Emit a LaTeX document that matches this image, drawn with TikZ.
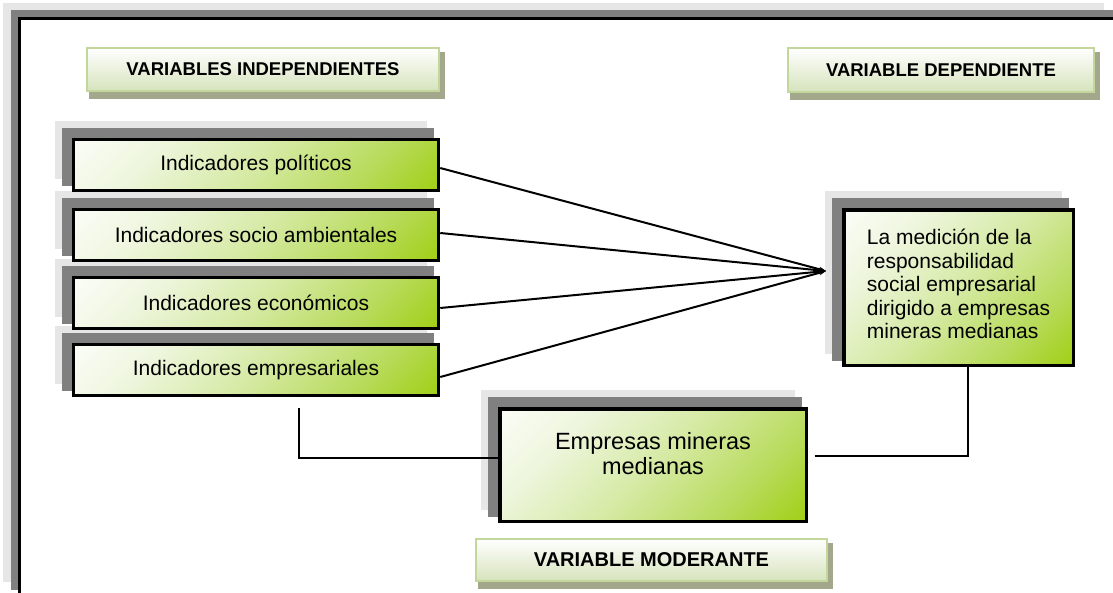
\documentclass[tikz,border=0pt]{standalone}
\usepackage{fontspec}
\setmainfont{Liberation Sans}
\usetikzlibrary{arrows.meta,calc}
\definecolor{lgray}{RGB}{230,230,230}
\definecolor{dgray}{RGB}{128,128,128}
\definecolor{bgreen}{RGB}{153,204,0}
\definecolor{g1}{RGB}{184,219,92}
\definecolor{g2}{RGB}{214,234,165}
\definecolor{g3}{RGB}{238,246,222}
\definecolor{tborder}{RGB}{195,214,155}
\definecolor{tbottom}{RGB}{214,227,188}
\definecolor{tshadow}{RGB}{163,168,140}
\pgfdeclarelayer{framelayer}
\pgfdeclarelayer{shadowlayer}
\pgfsetlayers{framelayer,shadowlayer,main}
\pgfdeclareverticalshading{boxgrad}{100bp}{color(0bp)=(bgreen); color(10bp)=(bgreen); color(30bp)=(g1); color(50bp)=(g2); color(70bp)=(g3); color(90bp)=(white); color(100bp)=(white)}
\newcommand\boxshadow[1]{%
  \begin{pgfonlayer}{shadowlayer}
    \fill[lgray] ($(#1.south west)+(-16.75,-13.25)$) rectangle ($(#1.north east)+(-13.25,-16.75)$);
    \fill[dgray] ($(#1.south west)+(-9.75,-6.25)$) rectangle ($(#1.north east)+(-6.25,-9.75)$);
  \end{pgfonlayer}}
\newcommand\titleshadow[1]{%
  \begin{pgfonlayer}{shadowlayer}
    \fill[tshadow] ($(#1.south west)+(3,7)$) rectangle ($(#1.north east)+(5,5)$);
  \end{pgfonlayer}}
\begin{document}
\begin{tikzpicture}[x=1pt,y=-1pt,
  indbox/.style={draw=black, line width=3.5pt, shade, shading=boxgrad, shading angle=45,
    minimum width=365pt, minimum height=51pt, inner sep=0pt, font=\fontsize{21}{24}\selectfont},
  titlebox/.style={draw=tborder, line width=2pt, top color=white, bottom color=tbottom,
    inner sep=0pt, font=\bfseries\fontsize{18.5}{22}\selectfont},
  conn/.style={line width=2pt, -{Stealth[length=7pt,width=5pt]}},
  modline/.style={line width=1.3pt}]
\useasboundingbox (0,0) rectangle (1113,592);
\begin{pgfonlayer}{framelayer}
  \clip (0,0) rectangle (1113,592);
  \fill[lgray] (3,3) rectangle (1104,582);
  \fill[dgray] (11,10) rectangle (1125,590);
  \draw[line width=3.5pt, fill=white] (19.5,18.5) rectangle (1130,605);
\end{pgfonlayer}

% titles
\node[titlebox, minimum width=352pt, minimum height=43pt] (t1) at (263,69.5) {VARIABLES INDEPENDIENTES};
\node[titlebox, minimum width=306pt, minimum height=44pt] (t2) at (941,70) {VARIABLE DEPENDIENTE};
\node[titlebox, minimum width=351pt, minimum height=42pt, font=\bfseries\fontsize{20}{24}\selectfont] (t3) at (651.5,560) {VARIABLE MODERANTE};
\titleshadow{t1}\titleshadow{t2}\titleshadow{t3}

% independent boxes
\node[indbox] (b1) at (256,165) {Indicadores políticos};
\node[indbox] (b2) at (256,235) {Indicadores socio ambientales};
\node[indbox] (b3) at (256,303) {Indicadores económicos};
\node[indbox] (b4) at (256,370) {Indicadores empresariales};
\boxshadow{b1}\boxshadow{b2}\boxshadow{b3}\boxshadow{b4}

% dependent box
\node[indbox, minimum width=229.5pt, minimum height=155.5pt] (dep) at (958.5,287.5) {};
\node[align=left, inner sep=0pt, font=\fontsize{21}{23.6}\selectfont] (dept) at (958.5,284)
  {La medición de la\\responsabilidad\\social empresarial\\dirigido a empresas\\mineras medianas};
\boxshadow{dep}

% moderating box
\node[indbox, minimum width=306.5pt, minimum height=112.5pt] (mod) at (653,465) {};
\node[align=center, inner sep=0pt, font=\fontsize{23.5}{25}\selectfont] (modt) at (653,453.5)
  {Empresas mineras\\medianas};
\boxshadow{mod}

% connectors
\coordinate (tip) at (826,271);
\draw[conn] ([yshift=-3pt]b1.east) -- (tip);
\draw[conn] ([yshift=2pt]b2.east) -- (tip);
\draw[conn] ([yshift=-5pt]b3.east) -- (tip);
\draw[conn] ([yshift=-7pt]b4.east) -- (tip);

\coordinate (ml) at (299,408);
\draw[modline] (ml) |- ([yshift=7pt]mod.west);
\draw[modline] ([xshift=6.5pt,yshift=9pt]mod.east) -| ([xshift=9.5pt]dep.south);
\end{tikzpicture}
\end{document}
